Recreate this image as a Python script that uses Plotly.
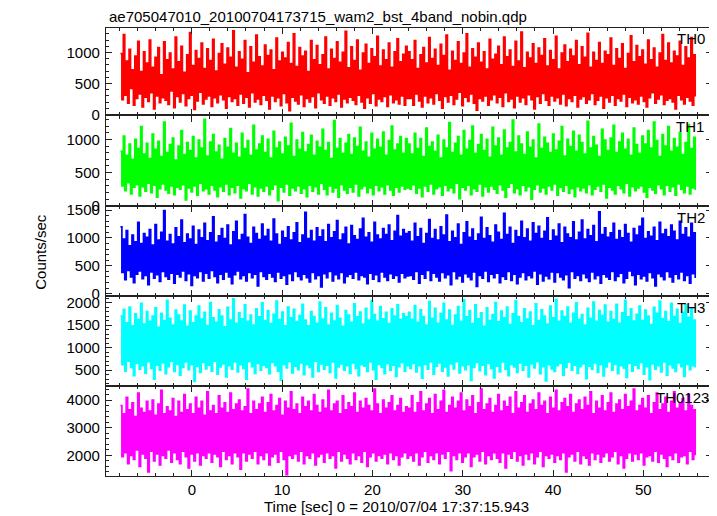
import plotly.graph_objects as go
from plotly.subplots import make_subplots

title_text = "ae705047010_20100704173715_wam2_bst_4band_nobin.qdp"
x_title = "Time [sec] 0 = 2010/07/04 17:37:15.943"
y_title = "Counts/sec"
panel_names = ["TH0", "TH1", "TH2", "TH3", "TH0123"]
t_start = -7.9
t_step = 0.1595

th0 = [
    980, 240, 1290, 310, 860, 180, 1050, 420, 720, 150, 940, 260, 1180, 330, 690, 120, 1010, 280, 830, 210,
    1200, 350, 760, 90, 920, 300, 1080, 190, 640, 270, 1170, 230, 880, 160, 990, 380, 730, 110, 1250, 290,
    850, 200, 1100, 340, 680, 140, 960, 260, 1320, 310, 790, 80, 1030, 220, 900, 360, 1150, 170, 740, 250,
    1060, 300, 870, 130, 1210, 270, 700, 190, 980, 320, 1140, 240, 810, 100, 1070, 290, 920, 210, 1350, 260,
    760, 150, 1010, 330, 890, 180, 1190, 280, 670, 120, 1090, 350, 840, 200, 1280, 250, 930, 160, 780, 310,
    1120, 230, 950, 90, 1040, 300, 720, 210, 1230, 270, 860, 140, 1000, 340, 910, 190, 1160, 60, 820, 280,
    1300, 220, 770, 170, 1080, 320, 940, 130, 1020, 260, 690, 200, 1190, 290, 880, 110, 1110, 350, 800, 240,
    960, 180, 1250, 300, 730, 150, 1050, 270, 900, 210, 1170, 330, 840, 120, 1000, 250, 1340, 190, 750, 280,
    1090, 230, 870, 160, 1200, 310, 710, 200, 990, 100, 1130, 270, 820, 180, 1060, 340, 930, 140, 1260, 250,
    780, 210, 1040, 290, 880, 130, 1150, 320, 760, 190, 1010, 240, 1220, 170, 850, 300, 970, 150, 1100, 260,
    1010, 260, 880, 150, 1190, 330, 740, 220, 960, 120, 1080, 300, 830, 190, 1240, 270, 900, 170, 1050, 340,
    790, 230, 1130, 100, 950, 290, 1280, 200, 710, 310, 1020, 160, 870, 250, 1170, 360, 820, 140, 990, 280,
    1300, 210, 760, 330, 1060, 180, 920, 70, 1150, 260, 840, 220, 1010, 300, 730, 150, 1210, 240, 890, 320,
    970, 190, 1100, 280, 800, 130, 1250, 350, 930, 210, 1040, 250, 770, 110, 1180, 300, 860, 200, 1330, 270,
    750, 160, 1000, 320, 910, 240, 1140, 90, 820, 290, 1070, 180, 950, 340, 1220, 230, 780, 150, 1030, 300,
    880, 220, 1260, 270, 730, 170, 990, 330, 1120, 140, 850, 260, 1050, 210, 940, 310, 1190, 120, 800, 250,
    1090, 290, 920, 180, 1310, 240, 760, 340, 1000, 160, 870, 230, 1160, 300, 820, 100, 1020, 270, 960, 200,
    1230, 310, 790, 150, 1060, 260, 900, 220, 1140, 330, 740, 130, 980, 280, 1270, 190, 850, 240, 1110, 170,
    930, 300, 1040, 210, 810, 120, 1200, 270, 880, 350, 1070, 180, 760, 250, 990, 320, 1290, 160, 870, 230,
    1150, 260, 830, 200, 1020, 90, 940, 310, 1180, 240, 790, 170, 1090, 280, 910, 220, 1240, 150, 960, 290,
]
th1 = [
    820, 300, 1050, 230, 760, 350, 930, 180, 700, 280, 1000, 320, 860, 150, 1190, 290, 780, 220, 940, 340,
    710, 200, 1080, 310, 850, 130, 970, 260, 740, 330, 1260, 240, 800, 190, 920, 300, 1020, 170, 690, 280,
    900, 250, 1130, 320, 770, 90, 950, 270, 830, 210, 1040, 300, 720, 160, 990, 340, 870, 230, 1300, 260,
    750, 180, 960, 310, 1070, 240, 810, 140, 910, 290, 700, 220, 1010, 330, 880, 170, 1160, 280, 790, 200,
    940, 310, 730, 120, 1090, 260, 860, 230, 980, 340, 760, 180, 1210, 290, 840, 150, 930, 270, 1050, 220,
    800, 300, 1000, 170, 720, 250, 1120, 320, 870, 80, 960, 280, 780, 210, 1030, 330, 900, 160, 1240, 270,
    740, 230, 990, 300, 850, 190, 1100, 260, 810, 140, 920, 310, 1060, 220, 760, 290, 970, 180, 880, 340,
    1150, 250, 830, 170, 950, 300, 710, 210, 1280, 270, 860, 130, 1010, 320, 790, 240, 940, 190, 1070, 280,
    770, 210, 1020, 330, 890, 150, 1180, 260, 820, 300, 960, 200, 730, 270, 1090, 170, 850, 310, 1000, 230,
    880, 290, 1110, 180, 760, 320, 980, 240, 1200, 160, 840, 280, 930, 210, 1040, 300, 790, 250, 1010, 270,
    930, 250, 780, 320, 1090, 190, 860, 270, 1010, 140, 740, 300, 1170, 220, 890, 330, 960, 180, 820, 260,
    1060, 290, 720, 160, 990, 310, 870, 230, 1250, 270, 800, 200, 940, 340, 1040, 110, 760, 280, 1130, 240,
    850, 310, 980, 170, 1200, 260, 790, 220, 920, 330, 1070, 150, 830, 290, 1000, 210, 730, 300, 1180, 250,
    900, 190, 1020, 320, 760, 240, 1140, 130, 870, 280, 950, 340, 1290, 200, 810, 260, 1050, 170, 930, 310,
    770, 230, 1110, 290, 880, 100, 990, 250, 720, 320, 1230, 210, 860, 270, 1030, 180, 940, 300, 800, 240,
    1080, 330, 840, 160, 970, 280, 1190, 220, 750, 310, 1000, 190, 890, 260, 1120, 140, 820, 290, 1060, 230,
    950, 270, 780, 200, 1270, 320, 870, 170, 1040, 250, 910, 300, 740, 220, 1150, 330, 990, 120, 830, 280,
    1020, 240, 1210, 180, 800, 310, 960, 260, 1090, 200, 850, 340, 1000, 150, 760, 290, 1170, 230, 920, 270,
    790, 300, 1050, 210, 930, 130, 1130, 280, 870, 240, 1260, 190, 980, 320, 740, 260, 1070, 170, 900, 310,
    1190, 220, 820, 290, 1010, 160, 880, 330, 1100, 250, 770, 200, 950, 300, 1220, 180, 860, 270, 1030, 240,
]
th2 = [
    1200, 380, 980, 250, 1130, 420, 860, 300, 1050, 200, 930, 350, 1280, 410, 900, 270, 1080, 330, 1010, 160,
    1150, 390, 870, 280, 1240, 340, 960, 220, 1100, 400, 1490, 310, 940, 260, 1060, 370, 890, 190, 1180, 350,
    1020, 300, 1320, 410, 910, 240, 1070, 360, 980, 150, 1210, 330, 880, 290, 1140, 400, 1000, 230, 1260, 370,
    950, 280, 1090, 420, 1380, 310, 920, 200, 1040, 350, 1170, 260, 990, 390, 1230, 300, 870, 180, 1110, 340,
    1300, 410, 960, 270, 1060, 330, 1420, 230, 1010, 380, 900, 290, 1190, 350, 1080, 140, 970, 400, 1250, 310,
    1030, 260, 1150, 370, 940, 300, 1340, 220, 1070, 390, 880, 280, 1120, 330, 1000, 170, 1200, 360, 960, 240,
    1090, 400, 1270, 310, 910, 250, 1050, 350, 1460, 290, 990, 210, 1130, 380, 940, 270, 1180, 330, 1020, 120,
    1140, 360, 930, 290, 1240, 400, 1000, 230, 1110, 340, 1310, 270, 960, 380, 1070, 200, 1190, 310, 890, 350,
    1220, 280, 1040, 390, 970, 250, 1160, 330, 1350, 300, 1010, 180, 1090, 370, 920, 260, 1280, 340, 1050, 220,
    980, 390, 1170, 300, 1060, 240, 1230, 360, 950, 280, 1120, 330, 1400, 210, 1030, 370, 1150, 290, 1080, 320,
    1110, 330, 940, 260, 1260, 400, 1020, 190, 1170, 350, 900, 280, 1080, 420, 1330, 240, 990, 370, 1150, 300,
    960, 230, 1200, 380, 1050, 290, 1410, 340, 930, 160, 1120, 400, 1000, 270, 1250, 320, 880, 210, 1090, 360,
    1290, 300, 1010, 250, 1160, 390, 950, 130, 1070, 330, 1370, 280, 990, 410, 1180, 220, 1040, 350, 920, 290,
    1230, 370, 1100, 200, 970, 310, 1440, 260, 1060, 400, 1190, 240, 900, 350, 1130, 180, 1020, 300, 1300, 380,
    1000, 250, 1160, 330, 940, 290, 1270, 410, 1080, 170, 1210, 360, 990, 230, 1120, 320, 1360, 270, 950, 390,
    1140, 210, 1030, 380, 1250, 300, 910, 250, 1190, 340, 1070, 110, 1000, 400, 1290, 280, 960, 330, 1100, 240,
    1320, 360, 980, 290, 1150, 220, 1040, 390, 1220, 270, 930, 330, 1470, 190, 1060, 350, 1180, 300, 1010, 260,
    1090, 400, 1260, 240, 970, 310, 1130, 370, 1000, 200, 1240, 280, 1080, 410, 920, 330, 1170, 160, 1050, 350,
    1210, 270, 1350, 320, 990, 230, 1110, 380, 1030, 290, 1190, 140, 950, 360, 1280, 310, 1070, 250, 1150, 400,
    1020, 300, 1230, 210, 1120, 350, 960, 270, 1300, 390, 1060, 240, 1180, 330, 1010, 190, 1260, 360, 1090, 280,
]
th3 = [
    1700, 620, 1850, 480, 1550, 700, 1900, 560, 1480, 380, 1750, 650, 1620, 520, 1980, 600, 1520, 430, 1800, 690,
    1580, 540, 1700, 300, 1880, 610, 1450, 500, 1760, 660, 1600, 420, 2050, 580, 1650, 700, 1500, 470, 1830, 630,
    1720, 390, 1590, 560, 1940, 680, 1470, 510, 1810, 620, 1550, 250, 1700, 590, 1920, 450, 1630, 670, 1780, 530,
    1490, 610, 2000, 480, 1660, 700, 1560, 410, 1840, 570, 1700, 640, 1460, 350, 1890, 600, 1610, 520, 2080, 680,
    1540, 460, 1770, 620, 1640, 540, 1950, 300, 1580, 690, 1720, 580, 1500, 430, 1860, 650, 1680, 500, 1990, 610,
    1600, 560, 1820, 420, 1530, 670, 1740, 600, 2030, 480, 1620, 280, 1790, 630, 1480, 550, 1900, 690, 1660, 440,
    1850, 590, 1570, 510, 1710, 660, 1960, 400, 1610, 620, 1480, 560, 1800, 350, 1690, 700, 1540, 470, 2010, 640,
    1630, 520, 1880, 610, 1500, 450, 1760, 680, 1590, 330, 1930, 570, 1650, 640, 1470, 500, 1820, 600, 1720, 430,
    1560, 660, 1970, 540, 1680, 380, 1790, 620, 1520, 590, 1870, 470, 1610, 680, 2040, 510, 1730, 300, 1580, 630,
    1910, 560, 1640, 420, 1780, 650, 1530, 500, 1860, 610, 1700, 360, 1950, 580, 1620, 670, 1750, 480, 1680, 600,
    1780, 540, 1620, 650, 1930, 460, 1560, 600, 1840, 320, 1690, 630, 1500, 520, 2020, 680, 1650, 410, 1870, 590,
    1540, 660, 1760, 480, 1980, 570, 1610, 370, 1830, 640, 1490, 530, 1720, 690, 1910, 440, 1580, 600, 2060, 510,
    1680, 620, 1820, 270, 1530, 560, 1950, 670, 1640, 490, 1770, 610, 1470, 400, 1880, 650, 1600, 540, 1730, 330,
    2000, 590, 1570, 460, 1810, 680, 1660, 520, 1900, 380, 1510, 630, 1750, 570, 2040, 450, 1690, 660, 1550, 500,
    1860, 610, 1630, 350, 1790, 640, 1480, 550, 1970, 690, 1600, 420, 1840, 580, 1700, 260, 1520, 620, 1920, 530,
    1660, 470, 2070, 600, 1580, 650, 1810, 390, 1690, 560, 1900, 680, 1540, 500, 1760, 610, 1990, 430, 1620, 580,
    1730, 640, 1500, 310, 1870, 590, 1650, 520, 2010, 660, 1580, 450, 1820, 620, 1710, 370, 1940, 570, 1560, 690,
    1800, 500, 1620, 630, 1960, 420, 1540, 600, 1770, 550, 2050, 340, 1680, 650, 1860, 480, 1590, 610, 1740, 540,
    1920, 670, 1600, 410, 1830, 580, 1700, 290, 1510, 640, 1890, 520, 1760, 600, 2030, 460, 1640, 680, 1800, 390,
    1570, 620, 1980, 550, 1690, 470, 1850, 660, 1530, 580, 1780, 360, 1950, 630, 1670, 510, 1880, 600, 1610, 560,
]
th0123 = [
    3800, 1950, 3500, 2100, 4100, 1700, 3650, 2000, 3900, 1850, 3400, 2200, 4250, 1600, 3700, 2050, 3550, 1900, 3950, 1400,
    3600, 2150, 4000, 1800, 3450, 2050, 3850, 1650, 4350, 2000, 3500, 1900, 3750, 2200, 3600, 1750, 4050, 2100, 3400, 1850,
    3950, 1700, 3550, 2150, 4200, 1950, 3650, 1550, 3850, 2050, 3500, 1800, 4100, 2100, 3700, 1650, 3950, 2000, 3450, 1900,
    4300, 2100, 3600, 1750, 3800, 2050, 3500, 1950, 4150, 1600, 3700, 2150, 3900, 1850, 3550, 2000, 4250, 1700, 3650, 2100,
    3850, 1950, 4000, 1500, 3600, 2100, 3750, 1800, 4400, 2050, 3500, 1900, 3950, 2150, 3650, 1700, 3850, 2000, 4100, 1850,
    3550, 2100, 3900, 1650, 4200, 1950, 3600, 2050, 3800, 1750, 4050, 2150, 3450, 1850, 3950, 1300, 3700, 2000, 4300, 1900,
    3650, 2050, 3850, 1800, 3500, 2150, 4100, 1700, 3750, 2000, 3950, 1900, 3600, 2100, 4200, 1650, 3800, 1950, 3550, 2050,
    4000, 1750, 3700, 2100, 4350, 1900, 3600, 2000, 3850, 1550, 3950, 2150, 3500, 1800, 4150, 2050, 3650, 1900, 3900, 1700,
    3750, 2100, 4250, 1850, 3550, 2000, 3950, 1750, 3700, 2150, 4050, 1600, 3800, 1950, 3600, 2100, 4400, 1800, 3850, 2000,
    3500, 1900, 4000, 2050, 3700, 1700, 3900, 2100, 4150, 1850, 3600, 2000, 3800, 1650, 4050, 1950, 3550, 2100, 3750, 1900,
    3700, 2000, 4150, 1800, 3550, 2100, 3900, 1650, 4300, 1950, 3600, 2150, 3850, 1750, 4050, 2000, 3500, 1850, 4200, 2100,
    3650, 1700, 3950, 2050, 4350, 1900, 3550, 2150, 3800, 1450, 4100, 2000, 3700, 1850, 3950, 2100, 4250, 1750, 3600, 1950,
    4000, 2100, 3750, 1600, 4150, 1950, 3500, 2050, 3900, 1800, 4400, 2150, 3650, 1700, 3850, 2000, 4050, 1850, 3550, 2100,
    3800, 1900, 4200, 1750, 3600, 2100, 3950, 1550, 3750, 2050, 4100, 1900, 3500, 2150, 4300, 1800, 3700, 2000, 3900, 1650,
    4150, 2050, 3550, 1850, 3850, 2100, 4000, 1700, 3650, 1950, 4250, 2150, 3800, 1600, 3950, 2000, 3500, 1900, 4100, 2050,
    3700, 1750, 4350, 2000, 3600, 1850, 3900, 2100, 4050, 1400, 3750, 1950, 4200, 2050, 3550, 1800, 3850, 2150, 4000, 1700,
    3650, 2000, 4100, 1900, 3800, 1650, 4300, 2100, 3500, 1850, 3950, 2050, 3700, 1750, 4150, 1950, 3600, 2100, 3900, 1800,
    4250, 1950, 3550, 2150, 3850, 1700, 4000, 2000, 3650, 1550, 4200, 1900, 3750, 2100, 3950, 1800, 4400, 2050, 3600, 1850,
    3800, 2100, 4050, 1650, 3700, 1950, 4150, 2000, 3500, 1800, 3900, 2150, 4250, 1750, 3650, 2050, 3850, 1900, 4100, 1600,
    3550, 2000, 3950, 1850, 4300, 2100, 3700, 1750, 3900, 1950, 4050, 2000, 3600, 1700, 4200, 2150, 3800, 1850, 3650, 2000,
]

series = [th0, th1, th2, th3, th0123]
colors = ["#ff0000", "#00ff00", "#0000ff", "#00ffff", "#ff00ff"]
y_ranges = [[-16, 1395], [-6, 1360], [-45, 1568], [146, 2140], [1253, 4505]]
y_dticks = [500, 500, 500, 500, 1000]
y_minor = [100, 100, 100, 100, 200]
x_range = [-9.5, 57.6]

# page body has an 8px margin; figure is sized/placed to compensate
W, H = 709, 508
L, R, T, B = 98, 5, 20, 40
PW = W - L - R
PH = H - T - B


def px(rx):
    return (rx - 8 - L) / PW


def py(ry):
    return (H - B - (ry - 8)) / PH


fig = make_subplots(rows=5, cols=1, shared_xaxes=True, vertical_spacing=0,
                    row_heights=[87.5, 91, 90, 90, 90])

axis_font = dict(family="Liberation Sans", size=15, color="black")
for i, (vals, col) in enumerate(zip(series, colors)):
    tt = [t_start + k * t_step for k in range(len(vals))]
    fig.add_trace(go.Scatter(x=tt, y=vals, mode="lines",
                             line=dict(color=col, width=1.7, shape="hv"),
                             hoverinfo="skip"),
                  row=i + 1, col=1)
    fig.update_yaxes(row=i + 1, col=1, range=y_ranges[i], dtick=y_dticks[i],
                     tick0=0, showgrid=False, zeroline=False,
                     showline=True, linecolor="#222", linewidth=1.3, mirror="allticks",
                     ticks="inside", ticklen=6, tickcolor="#222", tickwidth=1,
                     minor=dict(ticks="inside", ticklen=3, dtick=y_minor[i], tick0=0,
                                tickcolor="#222", showgrid=False),
                     ticklabelstandoff=2, tickfont=axis_font)
    fig.update_xaxes(row=i + 1, col=1, range=x_range, dtick=10, tick0=0,
                     showgrid=False, zeroline=False,
                     showline=True, linecolor="#222", linewidth=1.3, mirror="allticks",
                     ticks="inside", ticklen=6, tickcolor="#222", tickwidth=1,
                     minor=dict(ticks="inside", ticklen=3, dtick=2, tick0=0,
                                tickcolor="#222", showgrid=False),
                     tickfont=axis_font)

fig.update_xaxes(row=5, col=1, showticklabels=True, ticklabelstandoff=0)

annotations = [
    dict(text=title_text, x=px(107), y=py(16), xanchor="left", yanchor="middle"),
    dict(text=x_title, x=px(396.5), y=py(506), xanchor="center", yanchor="middle"),
    dict(text=y_title, x=px(41), y=py(251.75), xanchor="center", yanchor="middle",
         textangle=-90),
]
panel_tops = [27.5, 115, 206, 296, 386]
label_x = [675, 674, 675, 675, 654]
for name, top, lx in zip(panel_names, panel_tops, label_x):
    annotations.append(dict(text=name, x=px(lx), y=py(top + 11),
                            xanchor="left", yanchor="middle"))
for a in annotations:
    a.update(xref="paper", yref="paper", showarrow=False, font=axis_font)

fig.update_layout(width=W, height=H, margin=dict(l=L, r=R, t=T, b=B),
                  paper_bgcolor="white", plot_bgcolor="white",
                  showlegend=False, annotations=annotations)

fig.write_html("out.html")
